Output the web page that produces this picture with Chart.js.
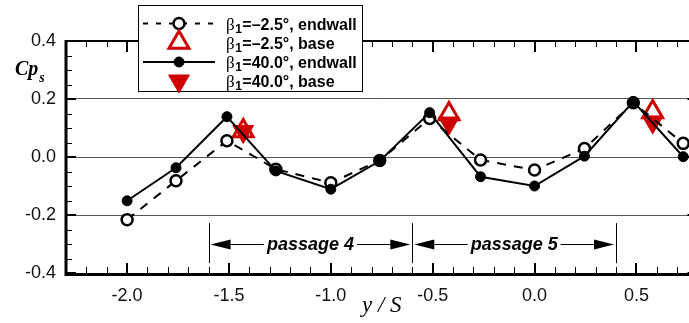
<!DOCTYPE html>
<html>
<head>
<meta charset="utf-8">
<script src="https://cdn.jsdelivr.net/npm/chart.js@4.4.1/dist/chart.umd.min.js"></script>
<style>
  html, body { margin: 0; padding: 0; background: #fff; overflow: hidden; }
  /* the plot frame runs a few pixels past the visible area on the right */
  #wrap { position: relative; width: 689px; height: 323px; overflow: hidden; }
  #cpsChart { display: block; }
</style>
</head>
<body>
<div id="wrap"><canvas id="cpsChart" width="698" height="323"></canvas></div>
<script>
// endwall static pressure taps, pitchwise position y/S
const yS           = [-2.0, -1.76, -1.51, -1.27, -1.0, -0.76, -0.515, -0.265, 0.0, 0.245, 0.485, 0.73];
const cpEndwallM25 = [-0.216, -0.082, 0.056, -0.042, -0.089, -0.012, 0.133, -0.010, -0.045, 0.029, 0.187, 0.047];
const cpEndwall40  = [-0.151, -0.037, 0.139, -0.048, -0.111, -0.014, 0.153, -0.068, -0.100, 0.003, 0.191, 0.001];

// base taps (one per passage)
const yBase     = [-1.43, -0.42, 0.58];
const cpBaseM25 = [0.090, 0.148, 0.155];
const cpBase40  = [0.088, 0.117, 0.121];

// passage boundaries and names
const passageEdges = [-1.6, -0.6, 0.4];
const passageNames = ['passage 4', 'passage 5'];

// axis ticks
const xTicks = [-2.0, -1.5, -1.0, -0.5, 0.0, 0.5];
const yTicks = [-0.4, -0.2, 0.0, 0.2, 0.4];

const RED  = '#d00000';
const SANS = '"Liberation Sans", Arial, sans-serif';
const SERIF = '"Liberation Serif", "Times New Roman", serif';

const pts = (xs, ys) => xs.map((x, i) => ({ x, y: ys[i] }));

// frame with inward major/minor ticks, passage arrows, legend, y title
const decorations = {
  id: 'decorations',
  afterDraw(chart) {
    const { ctx, chartArea: a, scales: { x, y } } = chart;
    ctx.save();
    ctx.strokeStyle = '#000';
    ctx.fillStyle = '#000';

    // minor ticks
    ctx.lineWidth = 1;
    ctx.beginPath();
    for (let k = Math.ceil(x.min * 10 + 1e-6); k <= Math.floor(x.max * 10 - 1e-6); k++) {
      const px = Math.round(x.getPixelForValue(k / 10)) + 0.5;
      ctx.moveTo(px, a.bottom); ctx.lineTo(px, a.bottom - 6);
      ctx.moveTo(px, a.top); ctx.lineTo(px, a.top + 6);
    }
    for (let k = -8; k <= 8; k++) {
      const py = Math.round(y.getPixelForValue(k * 0.05)) + 0.5;
      ctx.moveTo(a.left, py); ctx.lineTo(a.left + 6, py);
      ctx.moveTo(a.right, py); ctx.lineTo(a.right - 6, py);
    }
    ctx.stroke();

    // major ticks
    ctx.lineWidth = 2;
    ctx.beginPath();
    xTicks.forEach(v => {
      const px = Math.round(x.getPixelForValue(v));
      ctx.moveTo(px, a.bottom); ctx.lineTo(px, a.bottom - 10);
      ctx.moveTo(px, a.top); ctx.lineTo(px, a.top + 11);
    });
    yTicks.forEach(v => {
      const py = Math.round(y.getPixelForValue(v));
      ctx.moveTo(a.left, py); ctx.lineTo(a.left + 10, py);
      ctx.moveTo(a.right, py); ctx.lineTo(a.right - 10, py);
    });
    ctx.stroke();

    // frame
    ctx.lineWidth = 2;
    ctx.beginPath();
    ctx.moveTo(a.left, a.top); ctx.lineTo(a.right, a.top);
    ctx.moveTo(a.right, a.top); ctx.lineTo(a.right, a.bottom);
    ctx.stroke();
    ctx.lineWidth = 3;
    ctx.beginPath();
    ctx.moveTo(a.left, a.top - 1); ctx.lineTo(a.left, a.bottom + 1.5);
    ctx.lineTo(a.right, a.bottom + 1.5);
    ctx.stroke();

    // passage markers
    const yTop = y.getPixelForValue(-0.228);
    const yBot = y.getPixelForValue(-0.366);
    const yArr = Math.round(y.getPixelForValue(-0.30)) + 0.5;
    ctx.lineWidth = 1;
    ctx.beginPath();
    passageEdges.forEach(v => {
      const px = Math.round(x.getPixelForValue(v)) + 0.5;
      ctx.moveTo(px, yTop); ctx.lineTo(px, yBot);
    });
    ctx.stroke();
    ctx.font = `italic bold 18px ${SANS}`;
    ctx.textAlign = 'center';
    ctx.textBaseline = 'middle';
    passageNames.forEach((name, i) => {
      const x0 = x.getPixelForValue(passageEdges[i]) + 2;
      const x1 = x.getPixelForValue(passageEdges[i + 1]) - 2;
      const cx = (x0 + x1) / 2;
      const w = ctx.measureText(name).width;
      ctx.fillText(name, cx, yArr + 1);
      ctx.beginPath();
      ctx.moveTo(x0, yArr); ctx.lineTo(x0 + 20, yArr - 5); ctx.lineTo(x0 + 20, yArr + 5); ctx.closePath();
      ctx.moveTo(x1, yArr); ctx.lineTo(x1 - 20, yArr - 5); ctx.lineTo(x1 - 20, yArr + 5); ctx.closePath();
      ctx.fill();
      ctx.beginPath();
      ctx.moveTo(x0 + 20, yArr); ctx.lineTo(cx - w / 2 - 3, yArr);
      ctx.moveTo(cx + w / 2 + 3, yArr); ctx.lineTo(x1 - 20, yArr);
      ctx.stroke();
    });

    // legend box
    ctx.fillStyle = '#fff';
    ctx.fillRect(138.5, 5.5, 224, 86);
    ctx.lineWidth = 1;
    ctx.strokeRect(138.5, 5.5, 224, 86);
    const rows = [1, 3, 0, 2];
    const rowY = [23.5, 42.5, 62, 81];
    rows.forEach((di, r) => {
      const ds = chart.data.datasets[di];
      const cy = rowY[r];
      if (ds.showLine !== false) {
        ctx.strokeStyle = ds.borderColor;
        ctx.lineWidth = 2;
        ctx.setLineDash(ds.borderDash ? [5, 8] : []);
        ctx.beginPath(); ctx.moveTo(143, cy); ctx.lineTo(215, cy); ctx.stroke();
        ctx.setLineDash([]);
      }
      ctx.strokeStyle = ds.pointBorderColor;
      ctx.fillStyle = ds.pointBackgroundColor;
      ctx.lineWidth = ds.pointBorderWidth;
      Chart.helpers.drawPoint(ctx, {
        pointStyle: ds.pointStyle, radius: ds.pointRadius,
        rotation: ds.pointRotation || 0, borderWidth: ds.pointBorderWidth
      }, 179, cy);

      ctx.fillStyle = '#000';
      ctx.textAlign = 'left';
      ctx.textBaseline = 'alphabetic';
      let tx = 226;
      const base = cy + 6;
      ctx.font = `17px ${SERIF}`;
      ctx.fillText(ds.label.slice(0, 1), tx, base);
      tx += ctx.measureText(ds.label.slice(0, 1)).width + 0.5;
      ctx.font = `bold 12px ${SANS}`;
      ctx.fillText(ds.label.slice(1, 2), tx, base + 3);
      tx += ctx.measureText(ds.label.slice(1, 2)).width + 0.5;
      ctx.font = `bold 16px ${SANS}`;
      ctx.fillText(ds.label.slice(2), tx, base);
    });

    // y title Cp_s
    ctx.fillStyle = '#000';
    ctx.textAlign = 'left';
    ctx.textBaseline = 'alphabetic';
    ctx.font = `italic bold 20px ${SERIF}`;
    ctx.fillText('Cp', 15, 75);
    const cw = ctx.measureText('Cp').width;
    ctx.font = `italic bold 14px ${SERIF}`;
    ctx.fillText('s', 15 + cw + 1, 82);
    ctx.restore();
  }
};

new Chart(document.getElementById('cpsChart'), {
  type: 'line',
  data: {
    datasets: [
      {
        label: 'β1=40.0°, endwall',
        data: pts(yS, cpEndwall40),
        borderColor: '#000', borderWidth: 2,
        pointStyle: 'circle', pointRadius: 5,
        pointBackgroundColor: '#000', pointBorderColor: '#000', pointBorderWidth: 1,
        order: 1
      },
      {
        label: 'β1=–2.5°, endwall',
        data: pts(yS, cpEndwallM25),
        borderColor: '#000', borderWidth: 2, borderDash: [9, 8],
        pointStyle: 'circle', pointRadius: 5.5,
        pointBackgroundColor: '#fff', pointBorderColor: '#000', pointBorderWidth: 2.5,
        order: 2
      },
      {
        label: 'β1=40.0°, base',
        data: pts(yBase, cpBase40),
        showLine: false,
        pointStyle: 'triangle', pointRotation: 180, pointRadius: 12,
        pointBackgroundColor: RED, pointBorderColor: RED, pointBorderWidth: 1,
        order: 3
      },
      {
        label: 'β1=–2.5°, base',
        data: pts(yBase, cpBaseM25),
        showLine: false,
        pointStyle: 'triangle', pointRadius: 11.5,
        pointBackgroundColor: '#fff', pointBorderColor: RED, pointBorderWidth: 3,
        order: 4
      }
    ]
  },
  options: {
    responsive: false,
    animation: false,
    events: [],
    layout: { autoPadding: false, padding: { top: 41, right: 0.5, left: 0, bottom: 0 } },
    plugins: { legend: { display: false }, tooltip: { enabled: false } },
    scales: {
      x: {
        type: 'linear', min: -2.3, max: 0.8,
        afterBuildTicks: s => { s.ticks = xTicks.map(v => ({ value: v })); },
        afterFit: s => { s.height = 50; s.paddingLeft = 0; s.paddingRight = 0; },
        grid: { display: false, drawTicks: false },
        border: { display: false },
        ticks: {
          padding: 12, color: '#111',
          font: { family: SANS, size: 18 },
          callback: v => v.toFixed(1)
        },
        title: {
          display: true, text: 'y / S', color: '#000',
          font: { family: SERIF, style: 'italic', size: 23, weight: 'normal' },
          padding: { top: 0, bottom: 3 }
        }
      },
      y: {
        type: 'linear', min: -0.4, max: 0.4,
        afterBuildTicks: s => { s.ticks = yTicks.map(v => ({ value: v })); },
        afterFit: s => { s.width = 66; s.paddingTop = 0; s.paddingBottom = 0; },
        grid: {
          drawTicks: false, lineWidth: 1,
          color: c => Math.abs(c.tick.value) > 0.3 ? 'rgba(0,0,0,0)' : '#555'
        },
        border: { display: false },
        ticks: {
          padding: 10, color: '#111',
          font: { family: SANS, size: 18 },
          callback: v => v.toFixed(1)
        }
      }
    }
  },
  plugins: [decorations]
});
</script>
</body>
</html>
